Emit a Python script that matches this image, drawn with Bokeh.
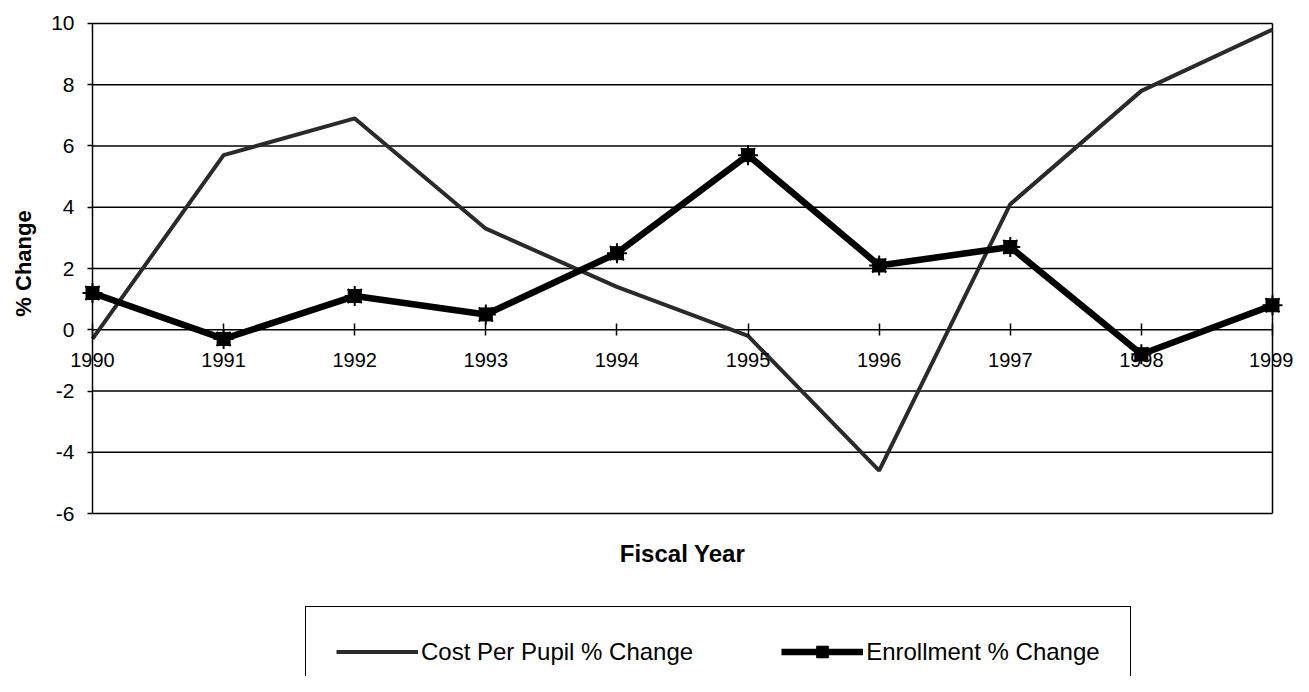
import math
from bokeh.plotting import figure
from bokeh.models import Legend, LegendItem, FixedTicker, LinearAxis, Label
from bokeh.embed import file_html
from bokeh.resources import INLINE

years = [1990, 1991, 1992, 1993, 1994, 1995, 1996, 1997, 1998, 1999]
year_labels = [str(y) for y in years]
cost_per_pupil = [-0.3, 5.7, 6.9, 3.3, 1.4, -0.2, -4.6, 4.1, 7.8, 9.8]
enrollment = [1.2, -0.3, 1.1, 0.5, 2.5, 5.7, 2.1, 2.7, -0.8, 0.8]
y_ticks = [-6, -4, -2, 0, 2, 4, 6, 8, 10]

FONT = "Liberation Sans"
X0, X1 = years[0], years[-1]
Y0, Y1 = y_ticks[0], y_ticks[-1]

W, H = 1293, 676
# the frame covers the whole canvas; the drawn box spans X0..X1, Y0..Y1
p = figure(width=W, height=H, output_backend="svg", toolbar_location=None,
           x_range=(1989.2983, 1999.1602), y_range=(-11.3224, 10.7510),
           frame_width=W, frame_height=H,
           min_border_left=0, min_border_right=0, min_border_top=0, min_border_bottom=0,
           x_axis_location=None, y_axis_location=None)
p.background_fill_color = "white"
p.border_fill_color = "white"
p.outline_line_color = None
for g in p.grid:
    g.visible = False

# horizontal gridlines and right edge of the box
p.segment(x0=X0, x1=X1, y0=y_ticks, y1=y_ticks, line_color="black", line_width=1.5)
p.segment(x0=X1, x1=X1, y0=Y0, y1=Y1, line_color="black", line_width=1.5)

# y axis at the left edge of the box
y_axis = LinearAxis(fixed_location=X0, ticker=FixedTicker(ticks=y_ticks), bounds=(Y0, Y1),
                    major_label_overrides={t: str(t) for t in y_ticks})
y_axis.axis_line_color = "black"
y_axis.axis_line_width = 1.5
y_axis.major_tick_out = 5
y_axis.major_tick_in = 0
y_axis.major_tick_line_width = 1.5
y_axis.minor_tick_line_color = None
y_axis.major_label_text_font = FONT
y_axis.major_label_text_font_size = "21px"
y_axis.major_label_text_color = "black"
y_axis.major_label_standoff = 13
p.add_layout(y_axis, "left")

# category axis drawn on the zero line
year_axis = LinearAxis(fixed_location=0, ticker=FixedTicker(ticks=years), bounds=(X0, X1),
                       major_label_overrides={y: s for y, s in zip(years, year_labels)})
year_axis.axis_line_color = None
year_axis.major_tick_in = 6
year_axis.major_tick_out = 6
year_axis.major_tick_line_color = "black"
year_axis.major_tick_line_width = 1.5
year_axis.minor_tick_line_color = None
year_axis.major_label_text_font = FONT
year_axis.major_label_text_font_size = "20px"
year_axis.major_label_text_color = "black"
year_axis.major_label_standoff = 17
p.add_layout(year_axis, "below")

# axis titles
p.add_layout(Label(x=23, y=H - 263, x_units="screen", y_units="screen", text="% Change",
                   angle=math.pi / 2, text_font=FONT, text_font_size="22px",
                   text_font_style="bold", text_align="center", text_baseline="middle",
                   text_color="black"))
p.add_layout(Label(x=682, y=H - 553, x_units="screen", y_units="screen", text="Fiscal Year",
                   text_font=FONT, text_font_size="24px", text_font_style="bold",
                   text_align="center", text_baseline="middle", text_color="black"))

# series
r_cost = p.line(years, cost_per_pupil, line_color="#2a2a2a", line_width=4)
r_enr = p.line(years, enrollment, line_color="black", line_width=6.5)
r_enr_m = p.scatter(years, enrollment, marker="square", size=13, fill_color="black",
                    line_color="black")
r_enr_s = p.scatter(years, enrollment, marker="asterisk", size=20, line_color="black",
                    line_width=2)

legend = Legend(items=[
    LegendItem(label="Cost Per Pupil % Change", renderers=[r_cost]),
    LegendItem(label="Enrollment % Change", renderers=[r_enr, r_enr_m, r_enr_s]),
], orientation="horizontal", location=(305, -21))
legend.label_text_font = FONT
legend.label_text_font_size = "24px"
legend.label_text_color = "black"
legend.label_width = 20
legend.label_height = 29
legend.glyph_width = 82
legend.glyph_height = 29
legend.label_standoff = 3
legend.spacing = 88
legend.padding = 30
legend.margin = 0
legend.border_line_color = "black"
legend.border_line_alpha = 1.0
legend.border_line_width = 1.5
legend.background_fill_alpha = 1
p.add_layout(legend, "center")

open("out.html", "w").write(file_html(p, INLINE))
